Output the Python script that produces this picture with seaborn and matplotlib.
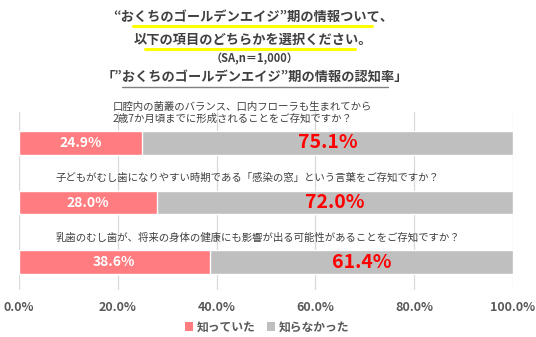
import matplotlib
matplotlib.use("Agg")
import matplotlib.pyplot as plt
import seaborn as sns
import pandas as pd
from matplotlib.patches import Patch
from matplotlib.lines import Line2D

sns.set_theme(style="white")
plt.rcParams["font.family"] = ["Noto Sans CJK JP", "DejaVu Sans"]

questions = [
    "口腔内の菌叢のバランス、口内フローラも生まれてから\n2歳7か月頃までに形成されることをご存知ですか？",
    "子どもがむし歯になりやすい時期である「感染の窓」という言葉をご存知ですか？",
    "乳歯のむし歯が、将来の身体の健康にも影響が出る可能性があることをご存知ですか？",
]
knew = [24.9, 28.0, 38.6]
did_not_know = [75.1, 72.0, 61.4]
series_names = ["知っていた", "知らなかった"]
tick_values = [0, 20, 40, 60, 80, 100]

pink = "#FF7C80"
gray = "#BFBFBF"
text_gray = "#404040"

df = pd.DataFrame({
    "q": [f"q{i}" for i in range(len(questions))],
    "knew": knew,
    "total": [a + b for a, b in zip(knew, did_not_know)],
})

fig = plt.figure(figsize=(5.36, 3.37), dpi=100)
ax = fig.add_axes([0.0354, 0.139, 0.9216, 0.529])

# stacked horizontal bars: full-length gray first, pink share on top
sns.barplot(data=df, y="q", x="total", color=gray, width=0.4, saturation=1,
            ax=ax, orient="h", zorder=2)
sns.barplot(data=df, y="q", x="knew", color=pink, width=0.4, saturation=1,
            ax=ax, orient="h", zorder=3)

ax.set_xlim(0, 100)
ax.set_ylim(2.47, -0.52)
ax.set_xticks(tick_values)
ax.set_xticklabels([f"{v:.1f}%" for v in tick_values], fontsize=9,
                   color="#595959", fontweight="bold")
ax.tick_params(axis="x", length=0, pad=8)
ax.set_yticks([])
ax.set_xlabel("")
ax.set_ylabel("")
for s in ax.spines.values():
    s.set_visible(False)
ax.grid(axis="x", color="#D9D9D9", linewidth=0.9, zorder=0)
ax.set_axisbelow(True)

for i, (k, u) in enumerate(zip(knew, did_not_know)):
    ax.text(k / 2, i, f"{k:.1f}%", ha="center", va="center", color="white",
            fontsize=10, fontweight="bold", zorder=5)
    ax.text(k + u / 2, i, f"{u:.1f}%", ha="center", va="center", color="#FF0000",
            fontsize=14, fontweight="bold", zorder=5)

# question captions above each bar
ax.text(19.0, -0.5, questions[0], ha="left", va="center", fontsize=7.5,
        color=text_gray, linespacing=1.15, zorder=5)
ax.text(46.2, 0.58, questions[1], ha="center", va="center", fontsize=7.5,
        color=text_gray, zorder=5)
ax.text(48.3, 1.59, questions[2], ha="center", va="center", fontsize=7.5,
        color=text_gray, zorder=5)

# headline block
W, H = 536, 337
def fx(px):
    return px / W
def fy(py):
    return 1 - py / H

fig.text(fx(253), fy(17), "“おくちのゴールデンエイジ”期の情報ついて、", ha="center",
         va="center", fontsize=9.5, fontweight="bold", color=text_gray)
fig.text(fx(253), fy(40), "以下の項目のどちらかを選択ください。", ha="center",
         va="center", fontsize=9.5, fontweight="bold", color=text_gray)
fig.text(fx(255), fy(59), "（SA,n＝1,000）", ha="center", va="center",
         fontsize=8, fontweight="bold", color=text_gray)
fig.text(fx(255), fy(77), "「”おくちのゴールデンエイジ”期の情報の認知率」", ha="center",
         va="center", fontsize=9.5, fontweight="bold", color=text_gray)
fig.add_artist(Line2D([fx(133), fx(372)], [fy(26), fy(26)], color="#FFFF00",
                      linewidth=2.2, transform=fig.transFigure))
fig.add_artist(Line2D([fx(145), fx(355)], [fy(49), fy(49)], color="#FFFF00",
                      linewidth=2.2, transform=fig.transFigure))
fig.add_artist(Line2D([fx(122), fx(388)], [fy(86.5), fy(86.5)], color="#808080",
                      linewidth=1.0, transform=fig.transFigure))

handles = [Patch(facecolor=pink, edgecolor="none"), Patch(facecolor=gray, edgecolor="none")]
leg = fig.legend(handles, series_names, loc="center", bbox_to_anchor=(fx(267), fy(327)),
                 ncol=2, frameon=False, handlelength=0.7, handleheight=0.7,
                 handletextpad=0.3, columnspacing=1.0, borderpad=0,
                 prop={"family": ["Noto Sans CJK JP", "DejaVu Sans"], "weight": "bold", "size": 8.5})
for t in leg.get_texts():
    t.set_color("#595959")

fig.savefig("out.png", dpi=100)
